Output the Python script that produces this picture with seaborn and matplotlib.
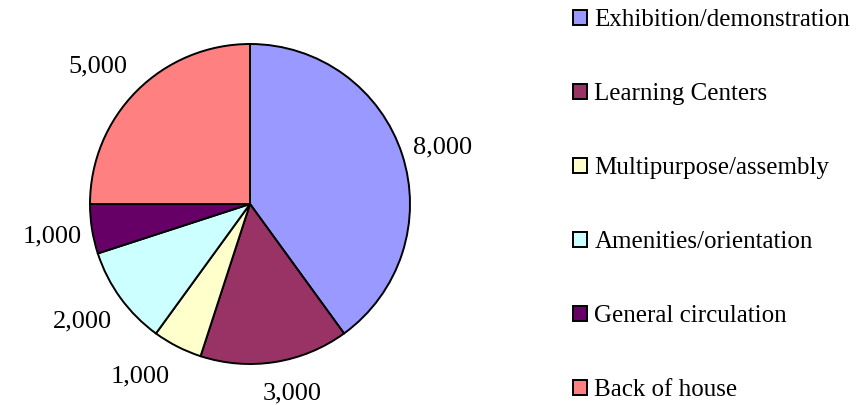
import matplotlib
matplotlib.use("Agg")
import numpy as np
import matplotlib.pyplot as plt
import seaborn as sns

categories = ["Exhibition/demonstration", "Learning Centers", "Multipurpose/assembly",
              "Amenities/orientation", "General circulation", "Back of house"]
areas = [8000, 3000, 1000, 2000, 1000, 5000]
colors = ["#9999FF", "#993366", "#FFFFCC", "#CCFFFF", "#660066", "#FF8080"]

# label placement tweaks (radius in pie units, angle nudge in degrees)
label_dist = [1.256, 1.21, 1.275, 1.275, 1.254, 1.28]
label_nudge = [-1.8, 3.5, -5.4, -1.0, 0.2, 2.8]

sns.set_theme(style="white")
plt.rcParams['font.family'] = ['Liberation Serif', 'DejaVu Serif']

fig = plt.figure(figsize=(8.65, 4.05), dpi=100)
ax = fig.add_axes([90/865, 41/405, 320/865, 320/405])

wedges, _ = ax.pie(areas, colors=colors, startangle=90, counterclock=False,
                   wedgeprops=dict(edgecolor="black", linewidth=1.4))

for w, v, d, n in zip(wedges, areas, label_dist, label_nudge):
    mid = np.deg2rad((w.theta1 + w.theta2) / 2 + n)
    ax.text(d * np.cos(mid), d * np.sin(mid), f"{v:,}", ha="center", va="center",
            fontsize=19, color="black")

ax.set_xlim(-1, 1)
ax.set_ylim(-1, 1)
ax.set_aspect("equal")
ax.axis("off")

leg = fig.legend(wedges, categories, loc="upper left",
                 bbox_to_anchor=(573/865, 1 - 9/405), frameon=False,
                 fontsize=18, labelcolor="black", handlelength=0.56, handleheight=0.56,
                 handletextpad=0.3, labelspacing=2.08, borderpad=0,
                 borderaxespad=0)

fig.savefig("out.png", dpi=100)
